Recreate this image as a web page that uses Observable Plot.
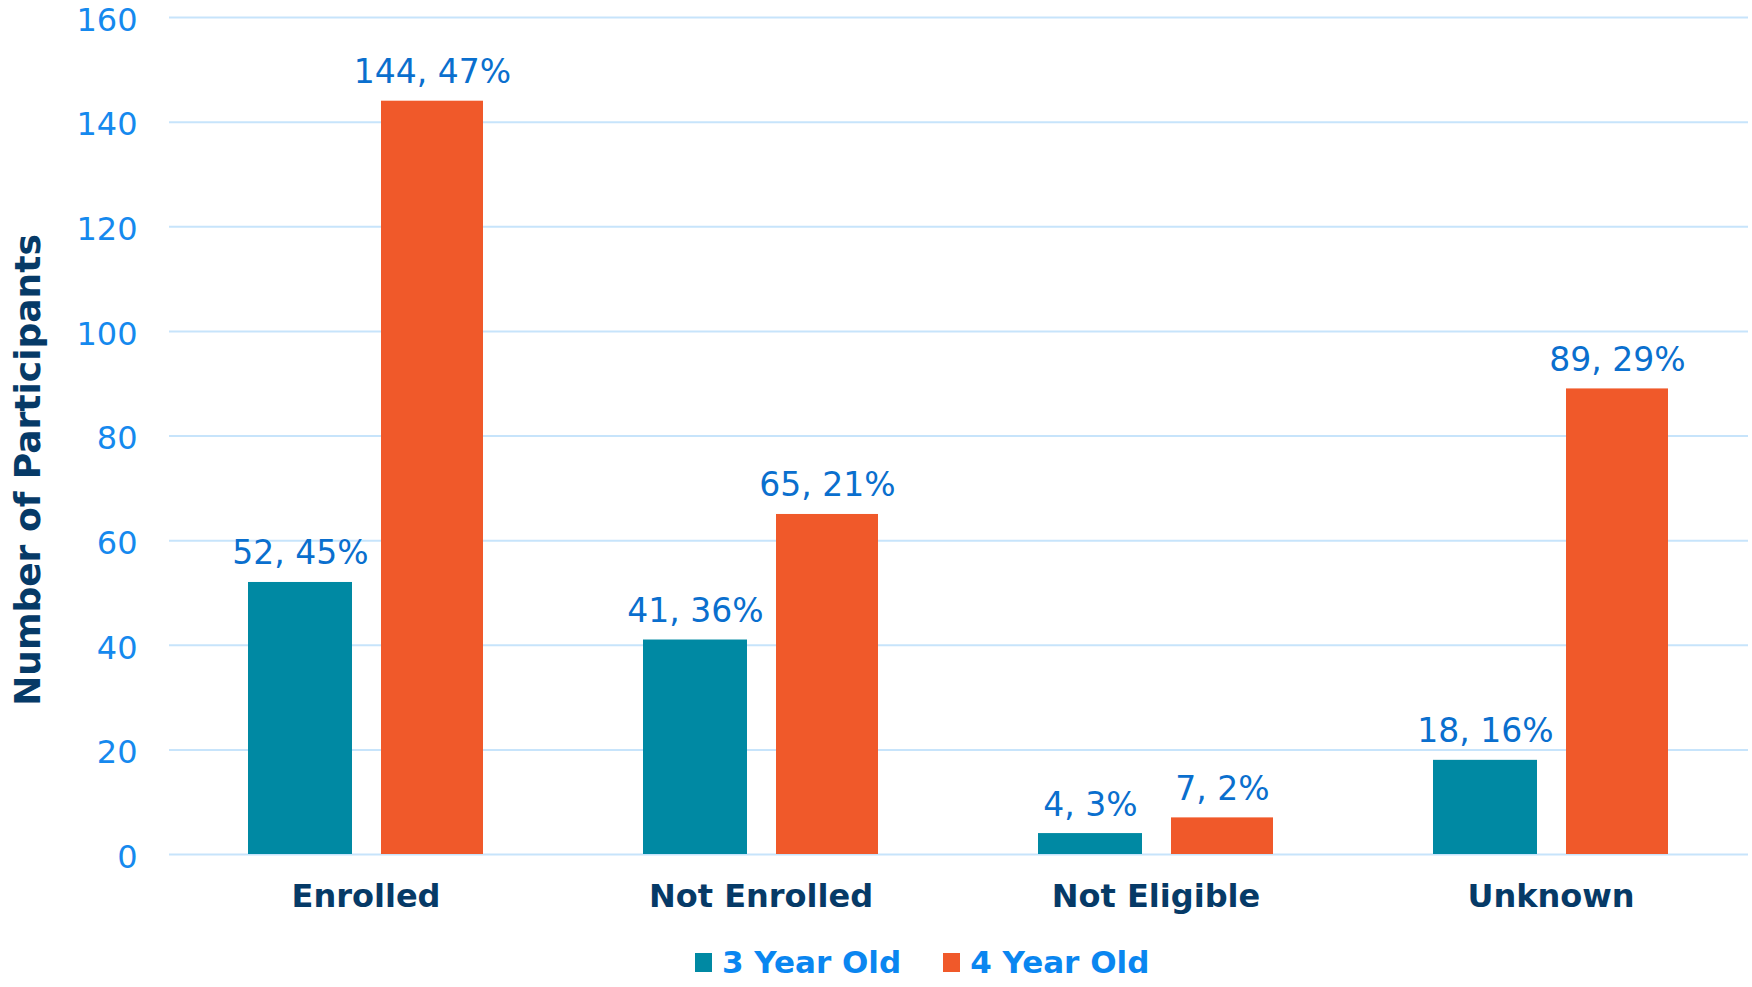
<!DOCTYPE html>
<html>
<head>
<meta charset="utf-8">
<script src="https://cdn.jsdelivr.net/npm/d3@7"></script>
<script src="https://cdn.jsdelivr.net/npm/@observablehq/plot@0.6"></script>
<style>
  html, body { margin: 0; padding: 0; background: #ffffff; }
  body { width: 1752px; height: 987px; overflow: hidden; font-family: "DejaVu Sans", Verdana, sans-serif; }
  #legend { display: flex; justify-content: flex-start; align-items: center; height: 54px; padding-left: 695px; font-weight: bold; font-size: 31px; color: #0a86f0; }
  .item { display: flex; align-items: center; margin-right: 42px; }
  .sw { width: 17px; height: 19px; margin-right: 10px; }
</style>
</head>
<body>
<div id="chart"></div>
<div id="legend"></div>
<script>
const categories = ["Enrolled", "Not Enrolled", "Not Eligible", "Unknown"];
const seriesNames = ["3 Year Old", "4 Year Old"];
const threeYear = [52, 41, 4, 18];
const fourYear = [144, 65, 7, 89];
const threePct = ["45%", "36%", "3%", "16%"];
const fourPct = ["47%", "21%", "2%", "29%"];
const yTicks = [0, 20, 40, 60, 80, 100, 120, 140, 160];
const colors = ["#0089a3", "#f0592a"];

const rows3 = categories.map((c, i) => ({category: c, value: threeYear[i], label: `${threeYear[i]}, ${threePct[i]}`}));
const rows4 = categories.map((c, i) => ({category: c, value: fourYear[i], label: `${fourYear[i]}, ${fourPct[i]}`}));

const labelFont = {fontSize: 33, fill: "#0a6fce", textAnchor: "middle", lineAnchor: "bottom"};

const chart = Plot.plot({
  width: 1752,
  height: 935,
  marginLeft: 169,
  marginRight: 4,
  marginTop: 17,
  marginBottom: 81,
  style: {fontFamily: "DejaVu Sans, Verdana, sans-serif", background: "#ffffff"},
  x: {domain: categories, paddingInner: 0.405, paddingOuter: 0.2, label: null},
  y: {domain: [0, 160], label: null},
  marks: [
    Plot.gridY(yTicks, {stroke: "#c7e4fb", strokeOpacity: 1, strokeWidth: 2}),
    Plot.axisY({ticks: yTicks, tickSize: 0, tickPadding: 32, fontSize: 32, dy: 3, color: "#1589ee", label: null}),
    Plot.axisX({tickSize: 0, tickPadding: 30, fontSize: 32, fontWeight: "bold", color: "#063a67", label: null}),
    Plot.barY(rows3, {x: "category", y: "value", fill: colors[0], insetLeft: 0, insetRight: 131}),
    Plot.barY(rows4, {x: "category", y: "value", fill: colors[1], insetLeft: 133, insetRight: 0}),
    Plot.text(rows3, {x: "category", y: "value", text: "label", dx: -65.6, dy: -18, ...labelFont}),
    Plot.text(rows4, {x: "category", y: "value", text: "label", dx: 66.4, dy: -18, ...labelFont}),
    Plot.text(["Number of Participants"], {frameAnchor: "left", rotate: -90, dx: -141, dy: 34, fontSize: 36, fontWeight: "bold", fill: "#063a67", textAnchor: "middle", lineAnchor: "middle"})
  ]
});
document.getElementById("chart").appendChild(chart);

const legend = document.getElementById("legend");
seriesNames.forEach((name, i) => {
  const item = document.createElement("div");
  item.className = "item";
  const sw = document.createElement("div");
  sw.className = "sw";
  sw.style.background = colors[i];
  const t = document.createElement("span");
  t.textContent = name;
  item.appendChild(sw);
  item.appendChild(t);
  legend.appendChild(item);
});
</script>
</body>
</html>
